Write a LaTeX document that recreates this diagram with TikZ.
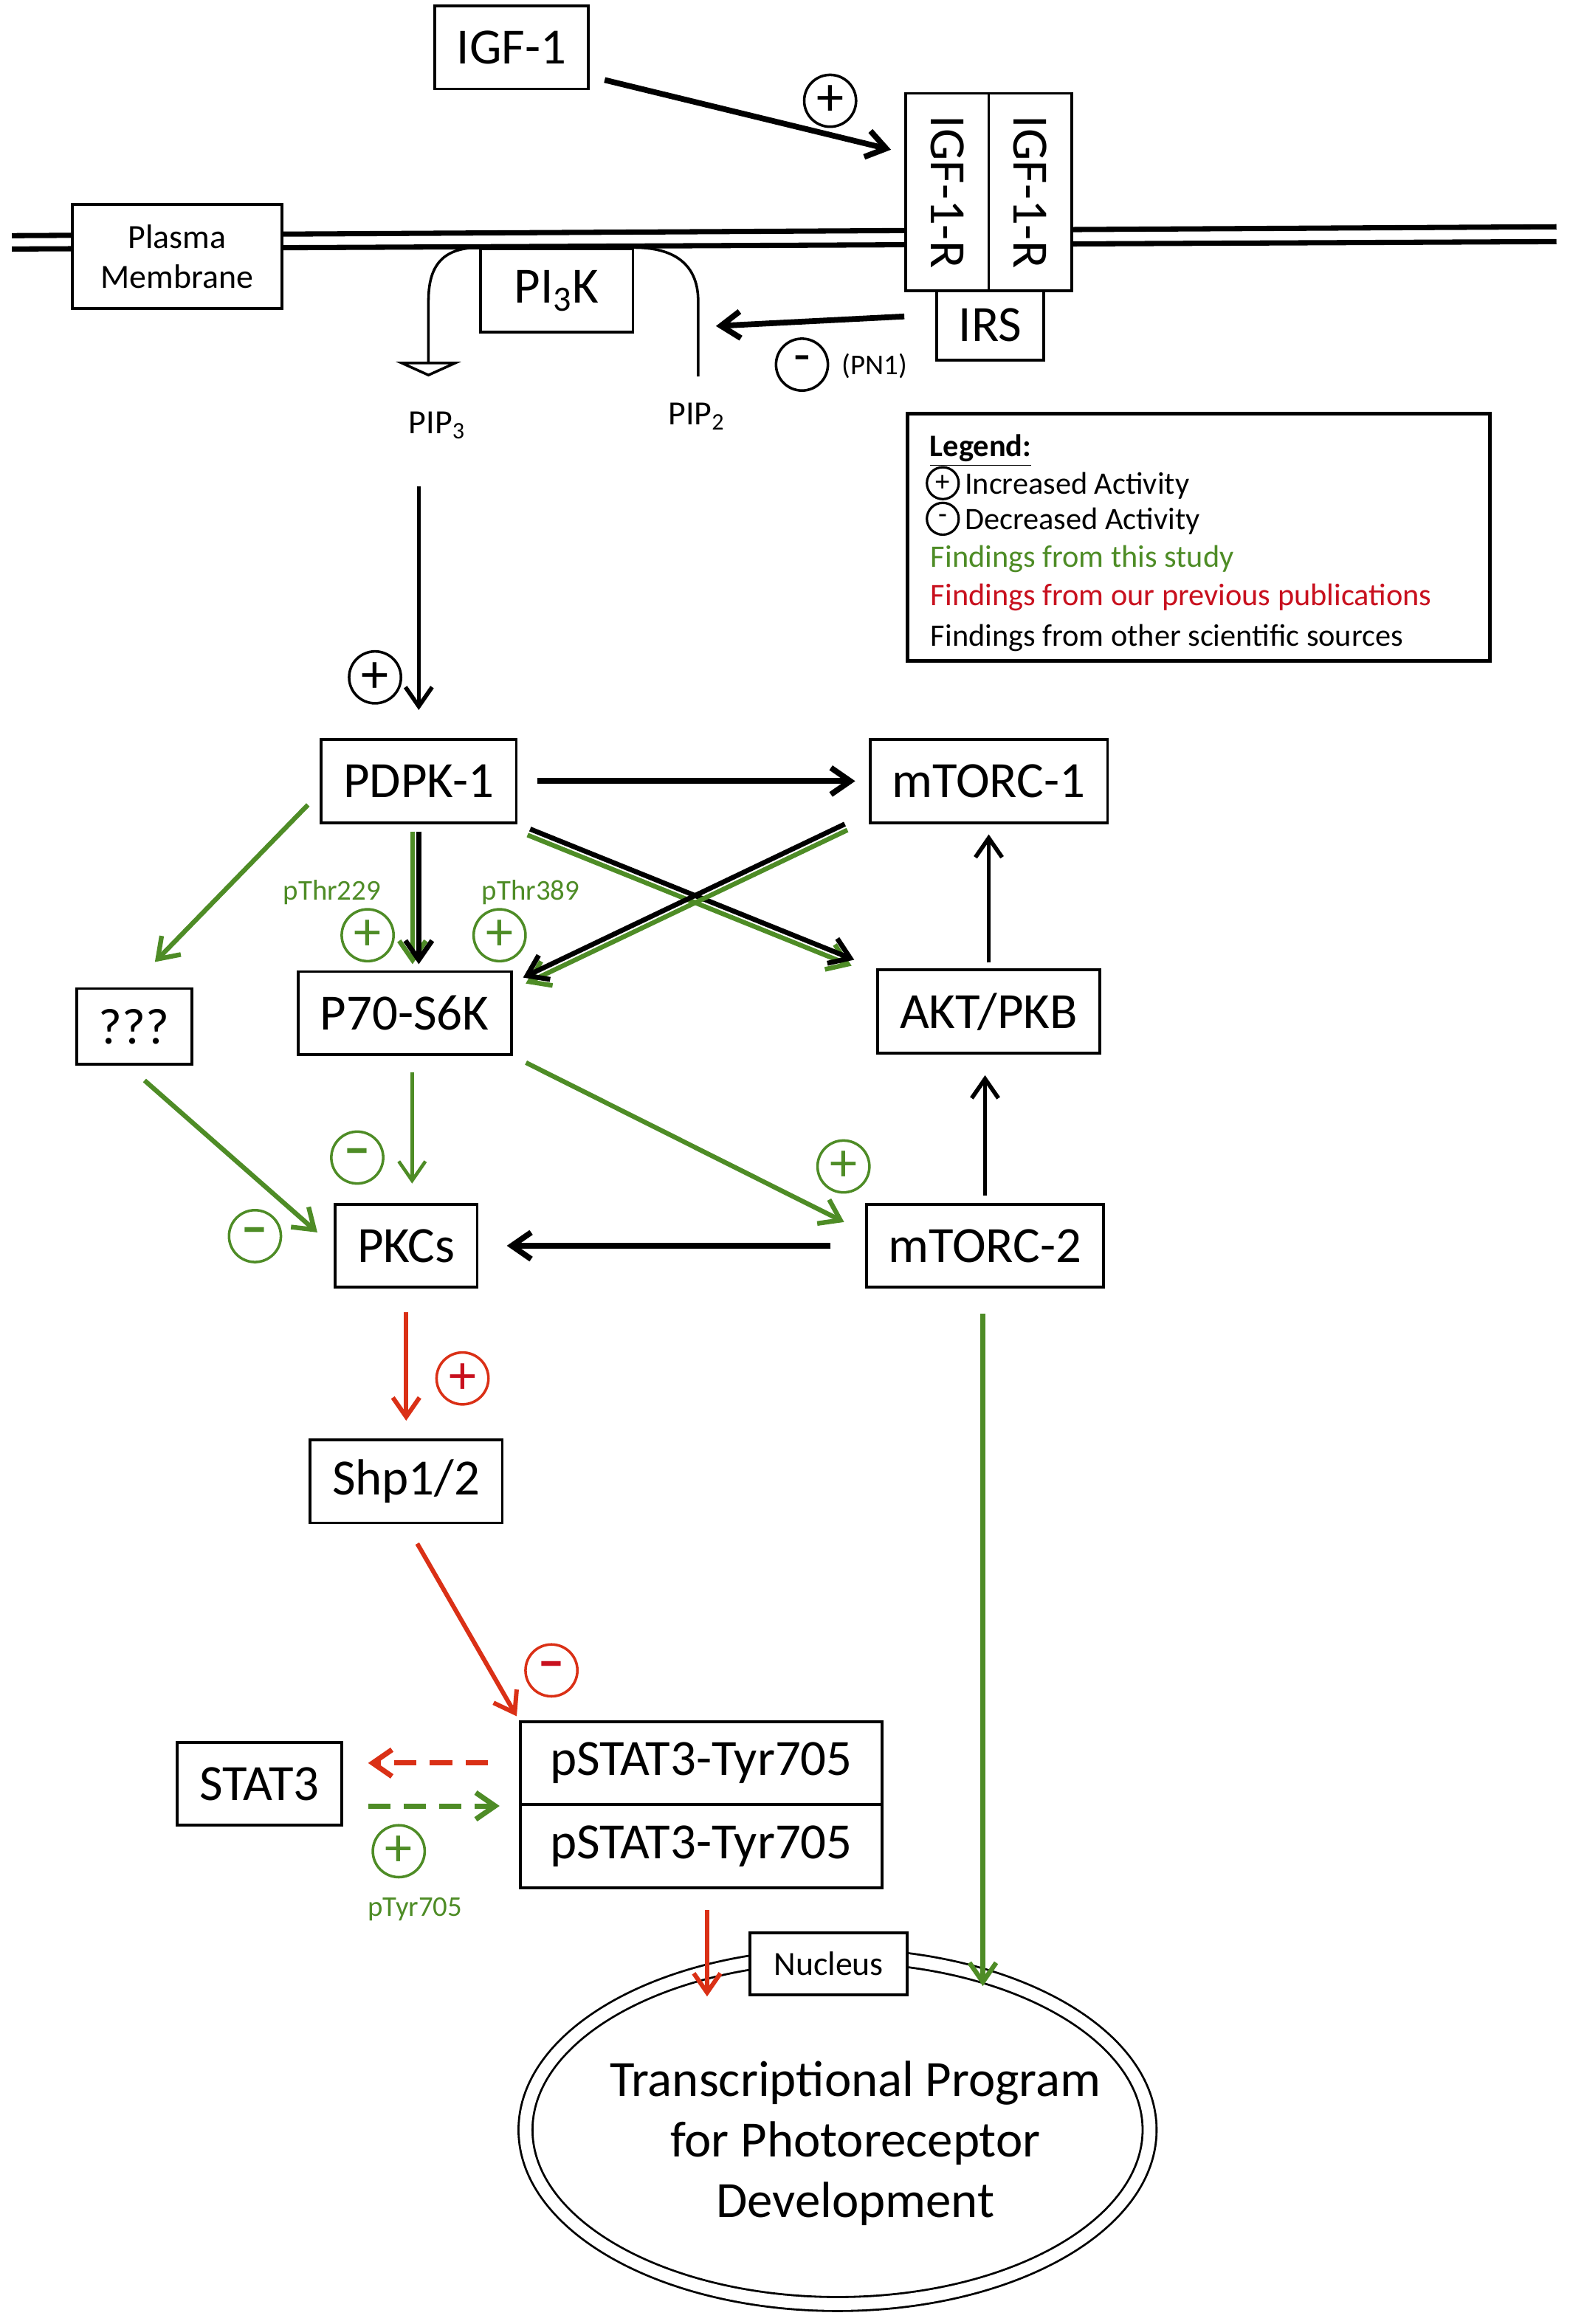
\documentclass[tikz,border=0pt]{standalone}
\usepackage{fontspec}
\setmainfont{Carlito}
\usepackage{xcolor}
\usepackage{graphicx}
\usepackage{tikz}
\usetikzlibrary{shapes,arrows.meta,positioning,calc}

\definecolor{studygreen}{RGB}{78,140,38}
\definecolor{pubred}{RGB}{218,48,22}
\definecolor{legendred}{RGB}{200,16,30}

\begin{document}
\begin{tikzpicture}[
        x=0.2mm, y=-0.2mm,
        >={Straight Barb[length=2.6mm,width=3.6mm]},
        box/.style={draw=black, line width=1.1pt, fill=white, inner xsep=3mm, inner ysep=0pt, minimum height=11.2mm, font=\fontsize{19.5}{23}\selectfont},
        smallbox/.style={draw=black, line width=1.1pt, fill=white, inner sep=0pt, align=center, font=\fontsize{13}{15.4}\selectfont},
        sign/.style={circle, draw, line width=1pt, minimum size=7mm, inner sep=0pt, font=\fontsize{21}{21}\selectfont},
        smallsign/.style={circle, draw, line width=0.9pt, minimum size=4.3mm, inner sep=0pt, font=\fontsize{11}{11}\selectfont},
        tag/.style={font=\fontsize{11}{13}\selectfont},
        legendtext/.style={anchor=base west, inner sep=0pt, font=\fontsize{12}{14}\selectfont},
        blk/.style={->, line width=1.6pt},
        heavy/.style={->, line width=2.2pt},
        grn/.style={->, draw=studygreen, line width=1.8pt},
        rd/.style={->, draw=pubred, line width=1.7pt}
    ]
        \useasboundingbox (0,0) rectangle (1059,1568);

        % Membrane
        \draw[line width=2pt] (8,159) -- (1050,153);
        \draw[line width=2pt] (8,168) -- (1050,163);

        % Receptor and membrane nodes
        \node[box] (IGF) at (345,32) {IGF-1};
        \node[box, minimum width=11.2mm, minimum height=26.6mm, inner sep=0pt] (R1) at (639,129.5) {\rotatebox{-90}{IGF-1-R}};
        \node[box, minimum width=11.2mm, minimum height=26.6mm, inner sep=0pt] (R2) at (695,129.5) {\rotatebox{-90}{IGF-1-R}};
        \node[box, minimum width=14.4mm, minimum height=9.4mm, inner sep=0pt] (IRS) at (668,219.5) {IRS};
        \node[box, minimum width=20.6mm] (PI3K) at (375.5,196) {PI\textsubscript{3}K};
        \node[smallbox, minimum width=28.2mm, minimum height=14mm] (PM) at (119.5,173) {Plasma\\Membrane};
        \node[font=\fontsize{13}{15}\selectfont] (PIP3) at (295,287) {PIP\textsubscript{3}};
        \node[font=\fontsize{13}{15}\selectfont] (PIP2) at (470,281) {PIP\textsubscript{2}};

        % PI3K arms
        \draw[line width=1pt, -{Triangle[open, width=8.8mm, length=2mm]}] (PI3K.north west) .. controls +(-26,0) and +(0,-22) .. ++(-34,36) -- ++(0,51);
        \draw[line width=1pt] (PI3K.north east) .. controls +(30,0) and +(0,-22) .. ++(43,36) -- ++(0,51);

        % Legend
        \node[draw, line width=1.4pt, minimum width=78.6mm, minimum height=33.4mm, inner sep=0pt] (legend) at (808.5,362.5) {};
        \node[legendtext] (legtitle) at (627,308) {\underline{\textbf{Legend:}}};
        \node[smallsign] (legplus) at (636,326) {+};
        \node[legendtext] (leginc) at (650.5,333.5) {Increased Activity};
        \node[smallsign] (legminus) at (636,350) {-};
        \node[legendtext] (legdec) at (650.5,357.5) {Decreased Activity};
        \node[legendtext, text=studygreen] (legstudy) at (627.5,382.5) {Findings from this study};
        \node[legendtext, text=legendred] (legprev) at (627.5,408.5) {Findings from our previous publications};
        \node[legendtext] (legother) at (627.5,436) {Findings from other scientific sources};

        % Pathway nodes
        \node[box] (PDPK) at (282.5,527) {PDPK-1};
        \node[box] (M1) at (667,527) {mTORC-1};
        \node[box] (P70) at (273,683.5) {P70-S6K};
        \node[box] (AKT) at (667,682.5) {AKT/PKB};
        \node[box, minimum height=10.2mm] (Q) at (90.5,692.5) {???};
        \node[box] (M2) at (664.5,840.5) {mTORC-2};
        \node[box] (PKC) at (274,840.5) {PKCs};
        \node[box] (Shp) at (274,999.5) {Shp1/2};
        \node[box] (ST) at (175,1203.5) {STAT3};
        \node[box, minimum width=48.8mm] (pS1) at (473,1189.5) {pSTAT3-Tyr705};
        \node[box, minimum width=48.8mm, below=-1.1pt of pS1] (pS2) {pSTAT3-Tyr705};

        % Nucleus
        \node[ellipse, draw, line width=0.8pt, double, double distance=1.6mm, minimum width=84.2mm, minimum height=47mm, inner sep=0pt] (nuc) at (565,1437) {};
        \node[smallbox, minimum width=21.2mm, minimum height=8.4mm] (nuclab) at (559,1325) {Nucleus};
        \node[font=\fontsize{19.5}{23.3}\selectfont, align=center] (prog) at (577,1446) {Transcriptional Program\\for Photoreceptor\\Development};
        \coordinate (redin) at (477,1347);
        \coordinate (grnin) at (663,1340);

        % Signs
        \node[sign] (s1) at (560,68) {+};
        \node[sign] (s2) at (541,246) {-};
        \node[tag] (PN1) at (590,247) {(PN1)};
        \node[sign] (s3) at (253,457) {+};
        \node[sign, draw=studygreen, text=studygreen] (s4) at (248,631) {+};
        \node[tag, text=studygreen] (thr229) at (224,602) {pThr229};
        \node[sign, draw=studygreen, text=studygreen] (s5) at (337,631) {+};
        \node[tag, text=studygreen] (thr389) at (358,602) {pThr389};
        \node[sign, draw=studygreen, text=studygreen] (s6) at (241,781) {\textbf{–}};
        \node[sign, draw=studygreen, text=studygreen] (s7) at (172,834) {\textbf{–}};
        \node[sign, draw=studygreen, text=studygreen] (s8) at (569,787) {+};
        \node[sign, draw=pubred, text=legendred] (s9) at (312,930) {+};
        \node[sign, draw=pubred, text=legendred] (s10) at (372,1127) {\textbf{–}};
        \node[sign, draw=studygreen, text=studygreen] (s11) at (269,1249) {+};
        \node[tag, text=studygreen] (tyr705) at (280,1288) {pTyr705};

        % Edges
        \draw[heavy] ($(IGF.south east)+(10,-7)$) -- ($(R1.west)+(-9,-28.5)$);
        \draw[heavy] ($(IRS.west)+(-21,-6)$) -- ($(PI3K.east)+(55,24)$);
        \draw[blk, shorten <=5.2mm, shorten >=3.8mm] (PIP3.south -| PDPK.north) -- (PDPK.north);
        \draw[heavy, shorten <=2.6mm, shorten >=1.8mm] (PDPK) -- (M1);
        \draw[grn, transform canvas={xshift=-2.4pt}, shorten <=1mm, shorten >=0.8mm] (PDPK.south) -- (PDPK.south |- P70.north);
        \draw[blk, line width=1.9pt, shorten <=1mm, shorten >=0.8mm] (PDPK.south) -- (PDPK.south |- P70.north);
        \draw[grn, transform canvas={shift={(-1pt,-2.3pt)}}, shorten <=1.8mm, shorten >=3.2mm] (PDPK.south east) -- (AKT.north west);
        \draw[blk, line width=1.9pt, shorten <=1.8mm, shorten >=3.2mm] (PDPK.south east) -- (AKT.north west);
        \draw[grn, transform canvas={shift={(1pt,-2.3pt)}}] ($(M1.south west)+(-16,0)$) -- ($(P70.north east)+(7,5)$);
        \draw[blk, line width=1.9pt] ($(M1.south west)+(-16,0)$) -- ($(P70.north east)+(7,5)$);
        \draw[blk, shorten <=0.8mm, shorten >=1.4mm] (AKT.north) -- (M1.south);
        \draw[blk, shorten <=1mm, shorten >=2.8mm] (M2.north) -- (M2.north |- AKT.south);
        \draw[grn] ($(PDPK.west)+(-8,16)$) -- ($(Q.north)+(14,-17)$);
        \draw[grn] ($(Q.south)+(7,10)$) -- ($(PKC.west)+(-11,-9)$);
        \draw[grn, line width=1.3pt, shorten <=2.2mm, shorten >=2.6mm] ($(P70.south)+(5,0)$) -- ($(PKC.north)+(4,0)$);
        \draw[grn, shorten <=2mm] (P70.south east) -- ($(M2.west)+(-14,-16)$);
        \draw[heavy, shorten <=4.6mm, shorten >=3.8mm] (M2.west) -- (PKC.east);
        \draw[rd, shorten <=3.2mm, shorten >=2.4mm] (PKC.south) -- (Shp.north);
        \draw[rd, shorten <=3mm, shorten >=0.6mm] (Shp.south) -- (pS1.north west);
        \draw[rd, line width=2pt, dash pattern=on 3mm off 1.8mm, shorten <=4.2mm, shorten >=3.4mm] (pS1.west) -- (pS1.west -| ST.east);
        \draw[grn, line width=2pt, dash pattern=on 3mm off 1.8mm, shorten <=3.4mm, shorten >=2.6mm] (ST.east |- pS1.south) -- (pS1.south west);
        \draw[rd, shorten <=2.8mm] (pS2.south -| redin) -- (redin);
        \draw[grn, shorten <=3.4mm] (M2.south -| grnin) -- (grnin);
    \end{tikzpicture}
\end{document}
